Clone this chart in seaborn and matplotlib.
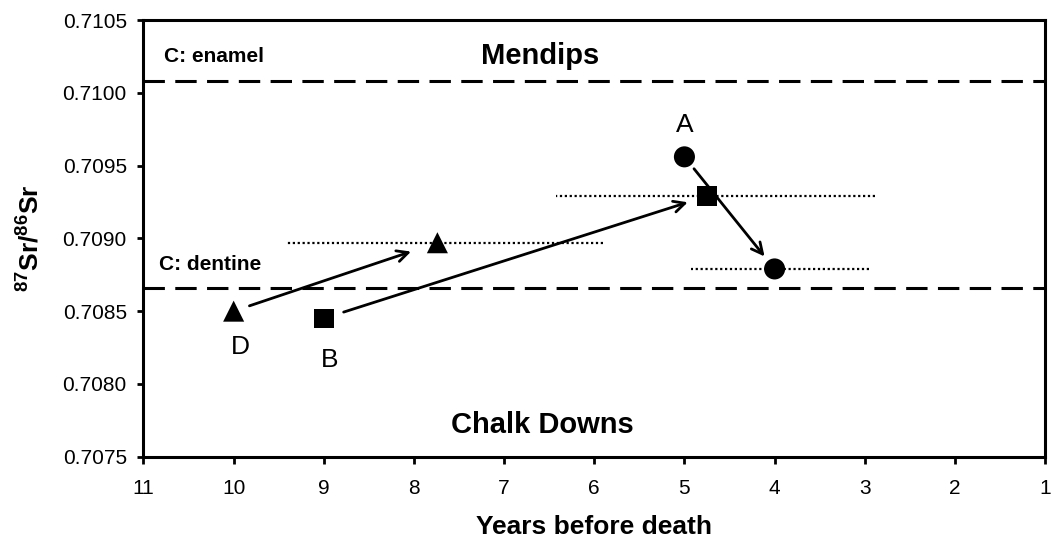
import numpy as np
import pandas as pd
import matplotlib.pyplot as plt
import matplotlib.ticker as mticker
import seaborn as sns

# Tooth sections: first and second sample for each individual
groups = ["A", "B", "D"]
group_markers = {"A": "o", "B": "s", "D": "^"}
group_sizes = {"A": 230, "B": 195, "D": 230}
first_x = [5.0, 9.0, 10.0]
first_y = [0.70956, 0.70845, 0.70850]
second_x = [4.0, 4.75, 7.74]
second_y = [0.70879, 0.70929, 0.70897]
# age range of the second sample (dotted bars)
range_lo = [2.95, 2.89, 5.90]
range_hi = [4.93, 6.42, 9.42]

enamel_level = 0.71008
dentine_level = 0.70866

x_ticks = list(range(11, 0, -1))
y_ticks = [0.7075, 0.7080, 0.7085, 0.7090, 0.7095, 0.7100, 0.7105]

df = pd.DataFrame({
    "group": groups + groups,
    "years": first_x + second_x,
    "sr": first_y + second_y,
})

sns.set_style("ticks")
plt.rcParams["font.family"] = ["Liberation Sans", "DejaVu Sans"]
plt.rcParams["mathtext.fontset"] = "custom"
plt.rcParams["mathtext.rm"] = "Liberation Sans"
plt.rcParams["mathtext.bf"] = "Liberation Sans:bold"
plt.rcParams["text.color"] = "black"
plt.rcParams["axes.labelcolor"] = "black"

fig = plt.figure(figsize=(10.52, 5.41), dpi=100)
ax = fig.add_axes([0.1364, 0.1558, 0.857, 0.8072])

# reference lines
for lvl in [enamel_level, dentine_level]:
    ax.axhline(lvl, color="black", lw=2.2, dashes=(7, 3.4), zorder=1)

# dotted age ranges
ax.hlines(second_y, range_lo, range_hi, colors="black",
          linestyles=[(0, (1, 1.2))], lw=1.6, zorder=2)

sns.scatterplot(data=df, x="years", y="sr", style="group", markers=group_markers,
                size="group", sizes=group_sizes, color="black", linewidth=0,
                legend=False, ax=ax, zorder=4)

# arrows from first to second sample
shrinks = {"A": (11, 11.5), "B": (15, 14.5), "D": (12, 20)}
for g, x0, y0, x1, y1 in zip(groups, first_x, first_y, second_x, second_y):
    sa, sb = shrinks[g]
    ax.annotate("", xy=(x1, y1), xytext=(x0, y0),
                arrowprops=dict(arrowstyle="->,head_length=0.8,head_width=0.4",
                                color="black", lw=2, shrinkA=sa, shrinkB=sb),
                zorder=3)

# individual labels
label_offsets = {"A": (0, 23), "B": (4, -30), "D": (5, -26)}
for g, x0, y0 in zip(groups, first_x, first_y):
    ax.annotate(g, xy=(x0, y0), xytext=label_offsets[g], textcoords="offset points",
                ha="center", va="center", fontsize=19)

ax.text(0.44, 0.918, "Mendips", transform=ax.transAxes, ha="center", va="center",
        fontsize=21, fontweight="bold")
ax.text(0.4425, 0.073, "Chalk Downs", transform=ax.transAxes, ha="center",
        va="center", fontsize=21, fontweight="bold")
ax.text(0.023, 0.916, "C: enamel", transform=ax.transAxes, ha="left", va="center",
        fontsize=15, fontweight="bold")
ax.text(0.0175, 0.441, "C: dentine", transform=ax.transAxes, ha="left",
        va="center", fontsize=15, fontweight="bold")

ax.set_xlim(11, 1)
ax.set_ylim(0.7075, 0.7105)
ax.set_xticks(x_ticks)
ax.set_yticks(y_ticks)
ax.yaxis.set_major_formatter(mticker.FormatStrFormatter("%.4f"))

for side in ["top", "right", "bottom", "left"]:
    ax.spines[side].set_visible(True)
    ax.spines[side].set_linewidth(2.2)
    ax.spines[side].set_color("black")

ax.tick_params(axis="x", direction="out", length=5, width=2, pad=11,
               labelsize=15, colors="black")
ax.tick_params(axis="y", direction="out", length=4, width=2, pad=8,
               labelsize=15, colors="black")

ax.set_xlabel("Years before death", fontsize=19, fontweight="bold", labelpad=12)
ax.set_ylabel(r"$^{\mathbf{87}}$Sr/$^{\mathbf{86}}$Sr", fontsize=19,
              fontweight="bold", labelpad=14)

fig.savefig("out.png", dpi=100)
